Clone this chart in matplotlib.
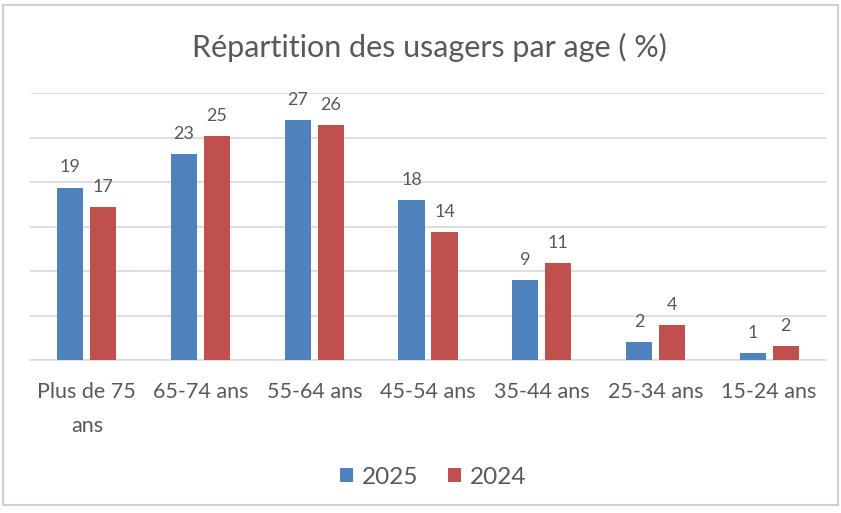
import matplotlib
matplotlib.use("Agg")
import matplotlib.pyplot as plt
import numpy as np
from matplotlib.patches import Rectangle

categories = ["Plus de 75\nans", "65-74 ans", "55-64 ans", "45-54 ans",
              "35-44 ans", "25-34 ans", "15-24 ans"]
series_names = ["2025", "2024"]
values_2025 = [19.4, 23.2, 27.0, 18.0, 9.0, 2.0, 0.75]
values_2024 = [17.2, 25.2, 26.4, 14.4, 10.9, 3.9, 1.57]
title = "Répartition des usagers par age ( %)"

FONT = ["Lato", "DejaVu Sans"]
TXT = "#595959"
BLUE = "#4F81BD"
RED = "#C0504D"
GRID = "#D9D9D9"

fig = plt.figure(figsize=(8.41, 5.13), dpi=100)
ax = fig.add_axes([30/841, 1-360/513, (826-30)/841, (360-93.3)/513])

x = np.arange(len(categories))
w = 0.23
off = 0.145
b1 = ax.bar(x - off, values_2025, w, color=BLUE, label=series_names[0], zorder=3)
b2 = ax.bar(x + off, values_2024, w, color=RED, label=series_names[1], zorder=3)

for bars in (b1, b2):
    for r in bars:
        h = r.get_height()
        ax.annotate(f"{h:.0f}", (r.get_x() + r.get_width()/2, h),
                    xytext=(0, 14.5), textcoords="offset points",
                    ha="center", va="center", fontsize=13, color=TXT,
                    family=FONT)

ax.set_xlim(-0.5, len(categories) - 0.5)
ax.set_ylim(0, 30)
ax.set_yticks(np.arange(0, 31, 5))
ax.yaxis.grid(True, color=GRID, linewidth=1.2, zorder=0)
ax.set_yticklabels([])
ax.tick_params(axis="y", length=0)
ax.set_xticks(x)
ax.set_xticklabels(categories, fontsize=15.5, color=TXT, family=FONT,
                   linespacing=1.85)
ax.tick_params(axis="x", length=0, pad=16)
for lab in ax.get_xticklabels():
    lab.set_verticalalignment("top")
for s in ("top", "right", "left"):
    ax.spines[s].set_visible(False)
ax.spines["bottom"].set_color(GRID)
ax.spines["bottom"].set_linewidth(1.2)

fig.text(429/841, 1-47/513, title, ha="center", va="center",
         fontsize=22, color=TXT, family=FONT)

leg = fig.legend(handles=[b1, b2], labels=series_names, loc="center",
                 bbox_to_anchor=(433/841, 1-477/513), ncol=2, frameon=False,
                 prop={"family": FONT, "size": 17.5}, handlelength=0.55,
                 handleheight=0.55, handletextpad=0.35, columnspacing=1.2)
for t in leg.get_texts():
    t.set_color(TXT)

fig.patches.append(Rectangle((3/841, 1-505/513), (838-3)/841, (505-5)/513,
                             transform=fig.transFigure, fill=False,
                             edgecolor="#D0D0D0", linewidth=1.5))

fig.savefig("out.png", dpi=100, facecolor="white")
